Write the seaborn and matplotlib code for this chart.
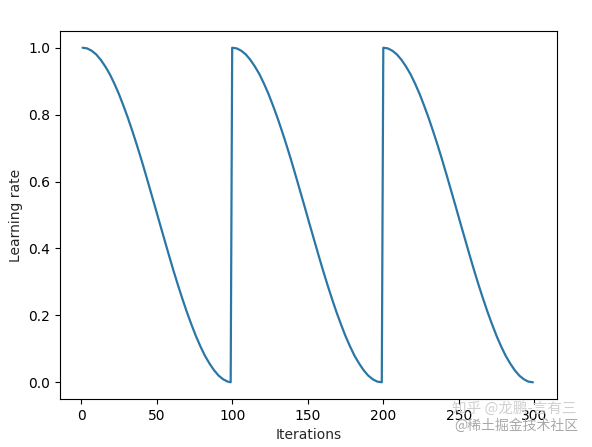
import matplotlib
matplotlib.use("Agg")
import matplotlib.pyplot as plt
import seaborn as sns
import pandas as pd

cycle1_it = [1, 4, 7, 10, 13, 16, 19, 22, 25, 28, 31, 34, 37, 40, 43, 46, 49, 52, 55, 58, 61, 64, 67, 70,
             73, 76, 79, 82, 85, 88, 91, 94, 97, 99]
cycle2_it = [100, 103, 106, 109, 112, 115, 118, 121, 124, 127, 130, 133, 136, 139, 142, 145, 148, 151, 154,
             157, 160, 163, 166, 169, 172, 175, 178, 181, 184, 187, 190, 193, 196, 199]
cycle3_it = [200, 203, 206, 209, 212, 215, 218, 221, 224, 227, 230, 233, 236, 239, 242, 245, 248, 251, 254,
             257, 260, 263, 266, 269, 272, 275, 278, 281, 284, 287, 290, 293, 296, 299]
cycle_lr = [1.000, 0.998, 0.991, 0.980, 0.964, 0.944, 0.921, 0.893, 0.862, 0.827, 0.790, 0.750, 0.708,
            0.664, 0.618, 0.571, 0.524, 0.476, 0.429, 0.382, 0.336, 0.292, 0.250, 0.210, 0.173, 0.138,
            0.107, 0.079, 0.056, 0.036, 0.020, 0.009, 0.002, 0.000]
x_label = "Iterations"
y_label = "Learning rate"

sns.set_style("ticks")
plt.rcParams['font.family'] = ['DejaVu Sans', 'Noto Sans CJK SC']

df = pd.DataFrame({"it": cycle1_it + cycle2_it + cycle3_it,
                   "lr": cycle_lr + cycle_lr + cycle_lr})

fig = plt.figure(figsize=(5.92, 4.47), dpi=100)
ax = fig.add_axes([60/592, 1-399/447, (557-60)/592, (399-31)/447])
sns.lineplot(data=df, x="it", y="lr", ax=ax, color="#2a77a6", linewidth=1.6)
ax.set_xlabel(x_label, fontsize=10)
ax.set_ylabel(y_label, fontsize=10)
ax.set_xticks([0, 50, 100, 150, 200, 250, 300])
ax.set_yticks([0.0, 0.2, 0.4, 0.6, 0.8, 1.0])
ax.tick_params(labelsize=10, direction="out", length=3.5, width=0.8, color="black", labelcolor="black")
for s in ax.spines.values():
    s.set_visible(True)
    s.set_color("black")
    s.set_linewidth(0.8)
ax.set_xlim(-13.95, 314.95)
ax.set_ylim(-0.05, 1.05)

fig.text(577/592, 1-409/447, "知乎 @龙鹏-言有三", fontsize=10.5, color="#d0d0d0",
         family=['Noto Sans CJK SC', 'DejaVu Sans'], va="center", ha="right")
fig.text(578/592, 1-426/447, "@稀土掘金技术社区", fontsize=10, color="#a8a8a8",
         family=['Noto Sans CJK SC', 'DejaVu Sans'], va="center", ha="right")

fig.savefig("out.png", dpi=100)
